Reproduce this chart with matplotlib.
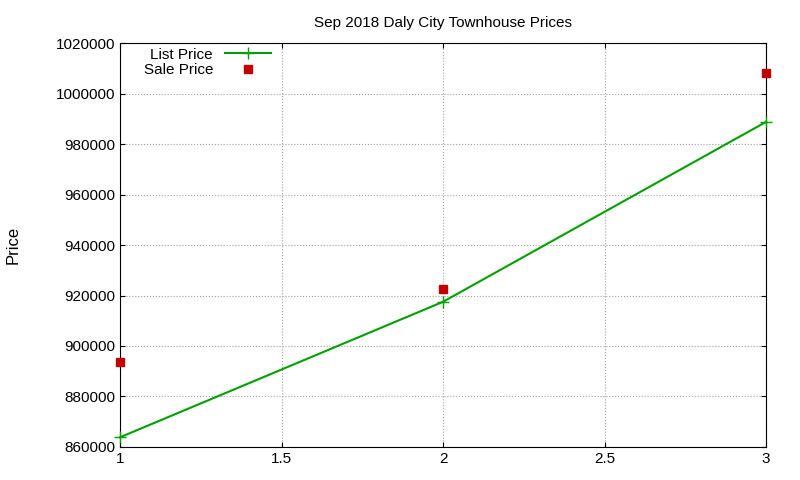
import matplotlib
matplotlib.use("Agg")
import matplotlib.pyplot as plt

x = [1, 2, 3]
list_price = [863800, 917500, 988800]
sale_price = [893800, 922500, 1008000]
xticks = [1, 1.5, 2, 2.5, 3]
yticks = list(range(860000, 1020001, 20000))

plt.rcParams['font.family'] = ['Liberation Sans', 'DejaVu Sans']
fig = plt.figure(figsize=(8, 4.8), dpi=100)
ax = fig.add_axes([0.15, 0.069, 0.8075, 0.841])
ax.plot(x, list_price, color='#00a000', marker='+', markersize=8, lw=1.5, label='List Price', clip_on=False, zorder=3)
ax.plot(x, sale_price, color='#c00000', marker='s', markersize=5.5, ls='none', label='Sale Price', clip_on=False, zorder=3)
ax.set_xlim(1, 3)
ax.set_ylim(860000, 1020000)
ax.set_xticks(xticks)
ax.set_xticklabels(['1', '1.5', '2', '2.5', '3'])
ax.set_yticks(yticks)
ax.set_yticklabels([str(v) for v in yticks])
ax.tick_params(direction='in', labelsize=11, top=True, right=True)
ax.grid(True, ls=':', color='#a0a0a0', lw=0.8)
ax.set_ylabel('Price', fontsize=12, labelpad=25)
ax.set_title('Sep 2018 Daly City Townhouse Prices', fontsize=11, pad=12)
leg = ax.legend(loc='upper left', bbox_to_anchor=(0.02, 1.015), frameon=False, markerfirst=False,
                fontsize=11, handlelength=3, borderpad=0.2, labelspacing=0.1)
for t in leg.get_texts():
    t.set_ha('right')
fig.savefig('out.png')
